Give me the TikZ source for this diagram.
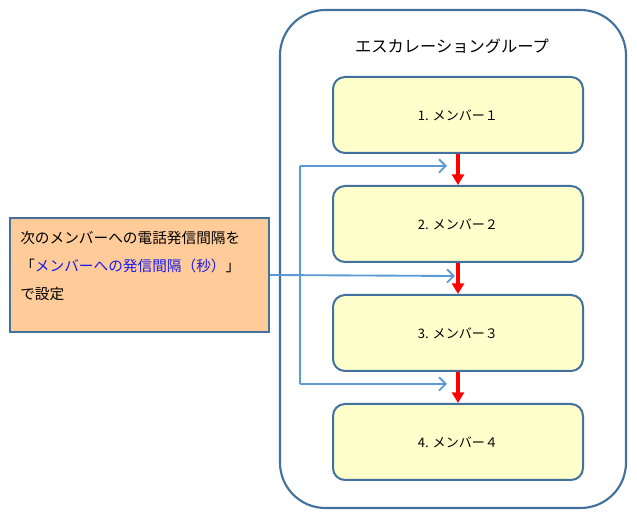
\documentclass[tikz,border=0pt]{standalone}
\usepackage{fontspec}
\newfontfamily\jp{Noto Sans CJK JP}
\usepackage{xcolor}
\usetikzlibrary{positioning,calc,arrows.meta}

\definecolor{frameblue}{HTML}{41719C}
\definecolor{linkblue}{HTML}{5B9BD5}
\definecolor{memberfill}{HTML}{FFFFCC}
\definecolor{notefill}{HTML}{FFCC99}
\definecolor{keyblue}{HTML}{1A1AF0}

\begin{document}
\begin{tikzpicture}[
    x=0.75pt, y=-0.75pt,
    group/.style={draw=frameblue, line width=1.6pt, rounded corners=34pt, minimum width=259.5pt, minimum height=373.5pt},
    member/.style={draw=frameblue, line width=1.5pt, fill=memberfill, rounded corners=9pt, minimum width=187.5pt, minimum height=57pt, font=\jp\fontsize{9.8}{11}\selectfont},
    note/.style={draw=frameblue, line width=1.5pt, fill=notefill, minimum width=194pt, minimum height=85.5pt},
    flow/.style={-{Triangle[length=8pt,width=9pt]}, red, line width=3pt},
    link/.style={-{Straight Barb[length=5pt,width=10pt]}, linkblue, line width=1.4pt}
]
\useasboundingbox (0,0) rectangle (637,527);

\node[group] (grp) at (453,259) {};
\node[font=\jp\fontsize{12.2}{14}\selectfont] (title) at (452,46) {エスカレーショングループ};

\node[member] (m1) at (458,115) {1. メンバー１};
\node[member] (m2) at (458,224) {2. メンバー２};
\node[member] (m3) at (458,333) {3. メンバー３};
\node[member] (m4) at (458,442) {4. メンバー４};

\draw[flow] (m1) -- (m2);
\draw[flow] (m2) -- (m3);
\draw[flow] (m3) -- (m4);

\node[note] (note) at (139.5,275) {};
\node[anchor=north west, align=left, inner sep=0pt, font=\jp\fontsize{11}{21}\selectfont]
    (notetext) at (20,231) {次のメンバーへの電話発信間隔を\\
    「\textcolor{keyblue}{メンバーへの発信間隔（秒）}」\\
    で設定};

\coordinate (split) at (300,275);
\coordinate (t2) at (447,166);
\coordinate (t3) at (455,276);
\coordinate (t4) at (447,384);

\draw[link] (note.east) -- (t3);
\draw[link] (split |- t2) -- (t2);
\draw[link] (split |- t4) -- (t4);
\draw[linkblue, line width=1.4pt] (split |- t2) -- (split |- t4);
\end{tikzpicture}
\end{document}
